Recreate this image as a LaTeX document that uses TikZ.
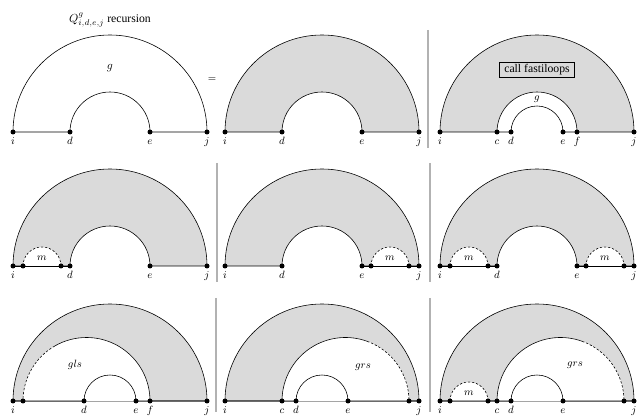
\documentclass[tikz,border=0pt]{standalone}
\usepackage{amsmath}
\usepackage{fontspec}
\setmainfont{Liberation Serif}
\usepackage{tikz}
\definecolor{ringgray}{RGB}{218,218,218}

\begin{document}
\begin{tikzpicture}[x=0.3mm, y=0.3mm, line width=0.5pt,
    dot/.style={fill=black},
    lbl/.style={anchor=base, yshift=-3.9mm, font=\small, inner sep=0pt},
    ring/.style={fill=ringgray, draw=black},
    loopline/.style={dash pattern=on 2pt off 1.5pt},
    sep/.style={line width=1.2pt, black!30}]
  \useasboundingbox (0,0) rectangle (642,416);

  % separators
  \draw[sep] (428,386) -- (428,268);
  \draw[sep] (217,253) -- (217,134);
  \draw[sep] (430,253) -- (430,134);
  \draw[sep] (216,118) -- (216,4);
  \draw[sep] (430,118) -- (430,4);
  \node (eq) at (212,336) {\small$=$};

  % ---------- row 1 ----------
  % left: the recursion
  \begin{scope}[shift={(110,284)}, name prefix=a-]
    \foreach \p/\x in {i/-97,d/-40,e/40,j/97} \coordinate (\p) at (\x,0);
    \draw (i) -- (d) arc (180:0:40) -- (j) arc (0:180:97) -- cycle;
    \node (g) at (0,64) {$g$};
    \node (title) at (0,112) {$Q^{g}_{i,d,e,j}$ recursion};
    \foreach \p in {i,d,e,j} {
      \fill[dot] (\p) circle (2.5);
      \node[lbl] (l\p) at (\p) {$\p$};
    }
  \end{scope}

  % middle: plain ring
  \begin{scope}[shift={(322,284)}, name prefix=b-]
    \foreach \p/\x in {i/-97,d/-40,e/40,j/97} \coordinate (\p) at (\x,0);
    \filldraw[ring] (i) -- (d) arc (180:0:40) -- (j) arc (0:180:97) -- cycle;
    \foreach \p in {i,d,e,j} {
      \fill[dot] (\p) circle (2.5);
      \node[lbl] (l\p) at (\p) {$\p$};
    }
  \end{scope}

  % right: fastiloops
  \begin{scope}[shift={(537,284)}, name prefix=c-]
    \foreach \p/\x in {i/-97,c/-40,d/-26,e/26,f/40,j/97} \coordinate (\p) at (\x,0);
    \filldraw[ring] (i) -- (c) arc (180:0:40) -- (j) arc (0:180:97) -- cycle;
    \draw (c) -- (d) arc (180:0:26) -- (f);
    \node (g) at (0,33) {\small$g$};
    \node[draw, font=\normalsize, inner xsep=4pt, inner ysep=2pt] (call) at (0,62) {call fastiloops};
    \foreach \p in {i,c,d,e,f,j} {
      \fill[dot] (\p) circle (2.5);
      \node[lbl] (l\p) at (\p) {$\p$};
    }
  \end{scope}

  % ---------- row 2 ----------
  \begin{scope}[shift={(110,150)}, name prefix=d-]
    \foreach \p/\x in {i/-97,ia/-87,mb/-49,d/-40,e/40,j/97} \coordinate (\p) at (\x,0);
    \filldraw[ring] (i) -- (d) arc (180:0:40) -- (j) arc (0:180:97) -- cycle;
    \fill[white] (ia) arc (180:0:19) -- cycle;
    \draw[loopline] (ia) arc (180:0:19);
    \draw (i) -- (d);
    \node (m) at (-68,8) {\small$m$};
    \foreach \p in {ia,mb} \fill[dot] (\p) circle (2.5);
    \foreach \p in {i,d,e,j} {
      \fill[dot] (\p) circle (2.5);
      \node[lbl] (l\p) at (\p) {$\p$};
    }
  \end{scope}

  \begin{scope}[shift={(322,150)}, name prefix=e-]
    \foreach \p/\x in {i/-97,d/-40,e/40,ma/49,ja/87,j/97} \coordinate (\p) at (\x,0);
    \filldraw[ring] (i) -- (d) arc (180:0:40) -- (j) arc (0:180:97) -- cycle;
    \fill[white] (ma) arc (180:0:19) -- cycle;
    \draw[loopline] (ma) arc (180:0:19);
    \draw (e) -- (j);
    \node (m) at (68,8) {\small$m$};
    \foreach \p in {ma,ja} \fill[dot] (\p) circle (2.5);
    \foreach \p in {i,d,e,j} {
      \fill[dot] (\p) circle (2.5);
      \node[lbl] (l\p) at (\p) {$\p$};
    }
  \end{scope}

  \begin{scope}[shift={(537,150)}, name prefix=f-]
    \foreach \p/\x in {i/-97,ia/-87,mb/-49,d/-40,e/40,ma/49,ja/87,j/97} \coordinate (\p) at (\x,0);
    \filldraw[ring] (i) -- (d) arc (180:0:40) -- (j) arc (0:180:97) -- cycle;
    \fill[white] (ia) arc (180:0:19) -- cycle;
    \fill[white] (ma) arc (180:0:19) -- cycle;
    \draw[loopline] (ia) arc (180:0:19);
    \draw[loopline] (ma) arc (180:0:19);
    \draw (i) -- (d) (e) -- (j);
    \node (m1) at (-68,8) {\small$m$};
    \node (m2) at (68,8) {\small$m$};
    \foreach \p in {ia,mb,ma,ja} \fill[dot] (\p) circle (2.5);
    \foreach \p in {i,d,e,j} {
      \fill[dot] (\p) circle (2.5);
      \node[lbl] (l\p) at (\p) {$\p$};
    }
  \end{scope}

  % ---------- row 3 ----------
  % gls
  \begin{scope}[shift={(110,15)}, name prefix=g-]
    \foreach \p/\x in {i/-97,ia/-87,d/-26,e/26,f/40,j/97} \coordinate (\p) at (\x,0);
    \filldraw[ring] (i) -- (j) arc (0:180:97) -- cycle;
    \fill[white] (ia) -- (f) arc (0:180:63.5) -- cycle;
    \draw (f) arc (0:120:63.5) coordinate (gm);
    \draw[loopline] (gm) arc (120:180:63.5);
    \draw (i) -- (d) arc (180:0:26) -- (j);
    \node (gls) at (-35,36) {\small$gls$};
    \fill[dot] (ia) circle (2.5);
    \foreach \p in {i,d,e,f,j} {
      \fill[dot] (\p) circle (2.5);
      \node[lbl] (l\p) at (\p) {$\p$};
    }
  \end{scope}

  % grs
  \begin{scope}[shift={(322,15)}, name prefix=h-]
    \foreach \p/\x in {i/-97,c/-40,d/-26,e/26,ja/87,j/97} \coordinate (\p) at (\x,0);
    \filldraw[ring] (i) -- (j) arc (0:180:97) -- cycle;
    \fill[white] (c) -- (ja) arc (0:180:63.5) -- cycle;
    \draw (c) arc (180:70:63.5) coordinate (gm);
    \draw[loopline] (gm) arc (70:0:63.5);
    \draw (i) -- (d) arc (180:0:26) -- (j);
    \node (grs) at (41,34) {\small$grs$};
    \fill[dot] (ja) circle (2.5);
    \foreach \p in {i,c,d,e,j} {
      \fill[dot] (\p) circle (2.5);
      \node[lbl] (l\p) at (\p) {$\p$};
    }
  \end{scope}

  % m + grs
  \begin{scope}[shift={(537,15)}, name prefix=k-]
    \foreach \p/\x in {i/-97,ia/-87,mb/-49,c/-40,d/-26,e/26,ja/87,j/97} \coordinate (\p) at (\x,0);
    \filldraw[ring] (i) -- (j) arc (0:180:97) -- cycle;
    \fill[white] (c) -- (ja) arc (0:180:63.5) -- cycle;
    \fill[white] (ia) arc (180:0:19) -- cycle;
    \draw[loopline] (ia) arc (180:0:19);
    \draw (c) arc (180:70:63.5) coordinate (gm);
    \draw[loopline] (gm) arc (70:0:63.5);
    \draw (i) -- (d) arc (180:0:26) -- (j);
    \node (m) at (-68,8) {\small$m$};
    \node (grs) at (38,36) {\small$grs$};
    \foreach \p in {ia,mb,ja} \fill[dot] (\p) circle (2.5);
    \foreach \p in {i,c,d,e,j} {
      \fill[dot] (\p) circle (2.5);
      \node[lbl] (l\p) at (\p) {$\p$};
    }
  \end{scope}
\end{tikzpicture}
\end{document}
